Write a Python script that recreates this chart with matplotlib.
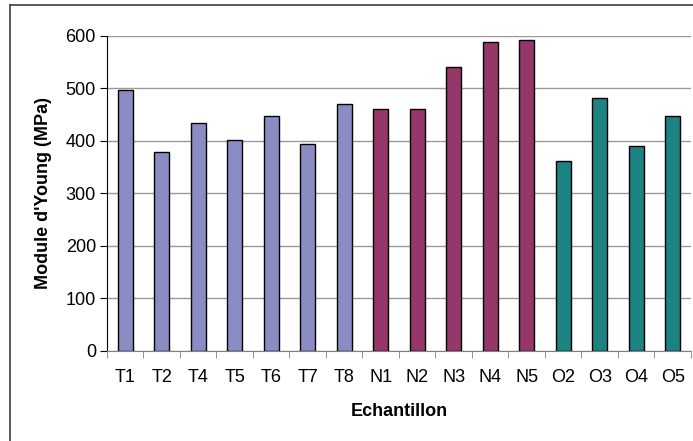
import matplotlib.pyplot as plt
from matplotlib.lines import Line2D

plt.rcParams['font.family'] = ['Liberation Sans', 'DejaVu Sans']

# Sample names and Young's modulus values (MPa)
samples = ['T1', 'T2', 'T4', 'T5', 'T6', 'T7', 'T8',
           'N1', 'N2', 'N3', 'N4', 'N5',
           'O2', 'O3', 'O4', 'O5']
modulus = [497, 379, 435, 401, 448, 395, 470,
           460, 460, 540, 589, 592,
           362, 481, 390, 448]
groups = ['T'] * 7 + ['N'] * 5 + ['O'] * 4
group_colors = {'T': '#8c8cc4', 'N': '#953768', 'O': '#1c8382'}

fig = plt.figure(figsize=(6.93, 4.41), dpi=100)
ax = fig.add_axes([0.1544, 0.2041, 0.8427, 0.7143])

x = list(range(len(samples)))
colors = [group_colors[g] for g in groups]
ax.bar(x, modulus, width=0.41, color=colors, edgecolor='black', linewidth=1.0, zorder=3)

ax.set_xlim(-0.5, len(samples) - 0.5)
ax.set_ylim(0, 600)
ax.set_yticks(range(0, 601, 100))
ax.set_xticks(x)
ax.set_xticklabels(samples)
ax.set_xticks([i + 0.5 for i in range(-1, len(samples))], minor=True)
ax.tick_params(axis='x', which='major', length=0, pad=13, labelsize=13)
ax.tick_params(axis='x', which='minor', length=5, color='#808080', direction='out')
ax.tick_params(axis='y', length=5, labelsize=13, pad=3)

ax.yaxis.grid(True, color='#999999', linewidth=1.0, zorder=0)
for s in ['top', 'right']:
    ax.spines[s].set_visible(False)
ax.spines['left'].set_color('black')
ax.spines['bottom'].set_color('#808080')

ax.set_xlabel('Echantillon', fontsize=13, fontweight='bold', labelpad=12)
ax.set_ylabel("Module d'Young (MPa)", fontsize=13, fontweight='bold', labelpad=10)

# outer chart border (top and left visible)
fig.add_artist(Line2D([10 / 693, 1], [1 - 5 / 441, 1 - 5 / 441], color='#404040', linewidth=1.2))
fig.add_artist(Line2D([10 / 693, 10 / 693], [0, 1 - 5 / 441], color='#404040', linewidth=1.2))

fig.savefig('out.png', dpi=100)
